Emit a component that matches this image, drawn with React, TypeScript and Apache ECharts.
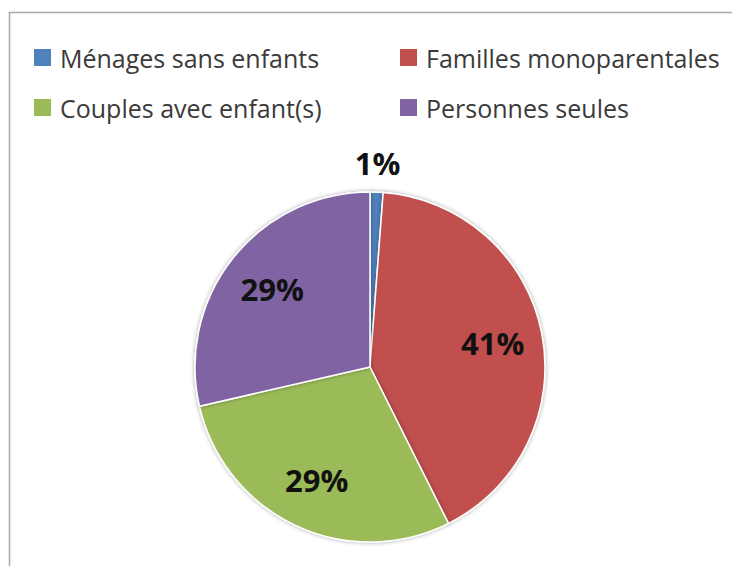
import React, { useEffect, useRef } from "react";
import * as echarts from "echarts";

const categories = [
  "Ménages sans enfants",
  "Familles monoparentales",
  "Couples avec enfant(s)",
  "Personnes seules",
];
const values = [1.2, 41.4, 28.8, 28.6];
const colors = ["#4F81BD", "#C0504D", "#9BBB59", "#8064A2"];

const FONT = "'Open Sans', sans-serif";

export default function App() {
  const ref = useRef<HTMLDivElement>(null);
  useEffect(() => {
    if (!ref.current) return;
    const chart = echarts.init(ref.current, null, { renderer: "svg" });
    const data = categories.map((name, i) => ({
      name,
      value: values[i],
      itemStyle: { color: colors[i] },
    }));
    const pct = (p: any) => Math.round(p.percent) + "%";
    const labelStyle = {
      fontFamily: FONT,
      fontWeight: "bold" as const,
      fontSize: 31,
      color: "#111",
    };
    const legendPos = [
      { left: 32, top: 45 },
      { left: 398, top: 45 },
      { left: 32, top: 95 },
      { left: 398, top: 95 },
    ];
    const legends = categories.map((name, i) => ({
      ...legendPos[i],
      orient: "horizontal",
      padding: 0,
      itemWidth: 19,
      itemHeight: 19,
      icon: "rect",
      selectedMode: false,
      data: [{ name, itemStyle: { color: colors[i] } }],
      textStyle: {
        fontFamily: FONT,
        fontSize: 25,
        color: "#3a3a3a",
        padding: [0, 0, 0, 3],
      },
    }));
    chart.setOption({
      animation: false,
      backgroundColor: "#fff",
      legend: legends,
      graphic: [
        {
          type: "rect",
          shape: { x: 9.5, y: 12.5, width: 800, height: 700 },
          style: { fill: "none", stroke: "#A9A9A9", lineWidth: 1.5 },
          silent: true,
        },
      ],
      series: [
        {
          name: "main",
          type: "pie",
          center: [370, 367],
          radius: [0, 175],
          startAngle: 90,
          clockwise: true,
          label: { show: false },
          labelLine: { show: false },
          itemStyle: {
            borderColor: "#fff",
            borderWidth: 1.5,
            shadowBlur: 4,
            shadowColor: "rgba(0,0,0,0.35)",
          },
          silent: true,
          data,
        },
        {
          name: "labelsInner",
          type: "pie",
          center: [370, 367],
          radius: [0, 244],
          startAngle: 90,
          silent: true,
          itemStyle: { color: "transparent" },
          label: { show: true, position: "inside", formatter: pct, ...labelStyle },
          labelLine: { show: false },
          data: categories.map((name, i) => ({
            name,
            value: values[i],
            itemStyle: { color: "transparent" },
            label: { show: i !== 0 },
          })),
        },
        {
          name: "labelsOuter",
          type: "pie",
          center: [370, 367],
          radius: [0, 402],
          startAngle: 90,
          silent: true,
          itemStyle: { color: "transparent" },
          label: { show: true, position: "inside", formatter: pct, ...labelStyle },
          labelLine: { show: false },
          data: categories.map((name, i) => ({
            name,
            value: values[i],
            itemStyle: { color: "transparent" },
            label: { show: i === 0 },
          })),
        },
      ],
    });
    return () => chart.dispose();
  }, []);
  return (
    <div
      ref={ref}
      style={{ position: "fixed", left: 0, top: 0, width: 732, height: 566 }}
    />
  );
}
